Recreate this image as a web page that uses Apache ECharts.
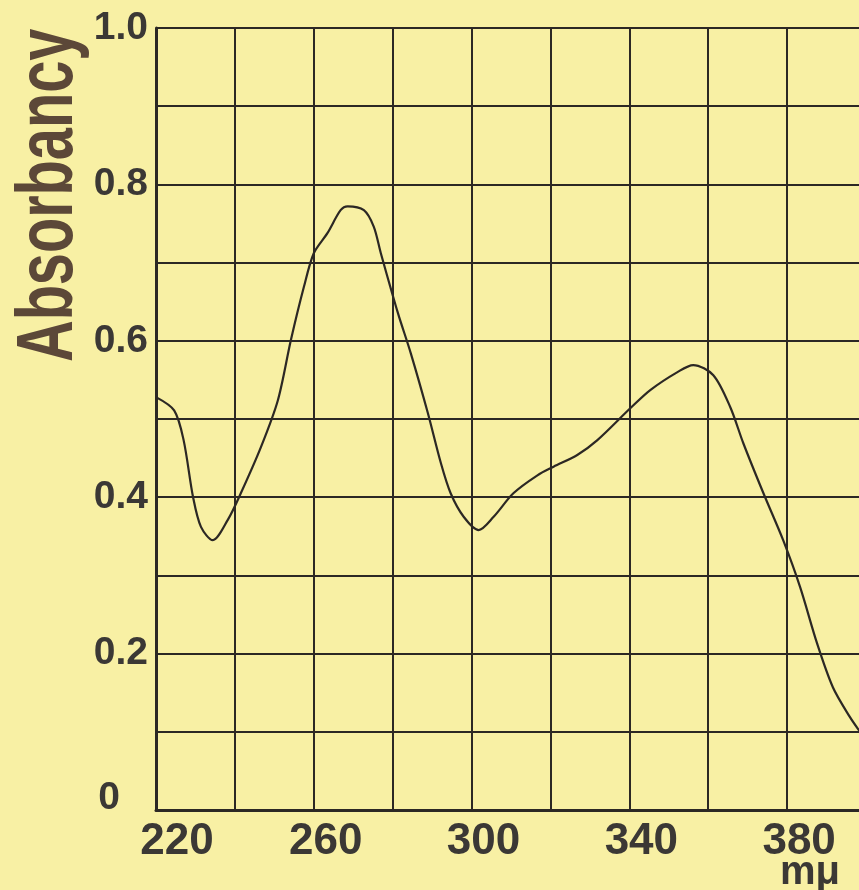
<!DOCTYPE html>
<html>
<head>
<meta charset="utf-8">
<script src="https://cdn.jsdelivr.net/npm/echarts@6/dist/echarts.min.js"></script>
<style>
html,body{margin:0;padding:0;background:#f8f0a4;}
#chart{width:859px;height:890px;}
</style>
</head>
<body>
<div id="chart"></div>
<script>
// Wavelength (mμ) and absorbancy
const wavelength = [220, 224.6, 227, 229.4, 231.4, 234.4, 238.2, 241.5, 246.6, 250.9, 254.2, 257.5, 260, 263.5, 266.8, 268.6, 272.7, 275.2, 277, 281.3, 284.6, 288.9, 292.2, 294.7, 298, 301.8, 305.6, 310.6, 316.7, 320.8, 326.8, 331.9, 340.3, 345.3, 352.2, 356.2, 361.3, 365.6, 368.9, 374, 379, 383.3, 387.6, 391.6, 395.9, 398.2, 400];
const absorbancy = [0.528, 0.511, 0.473, 0.400, 0.362, 0.345, 0.371, 0.405, 0.464, 0.524, 0.601, 0.669, 0.712, 0.738, 0.767, 0.772, 0.767, 0.746, 0.712, 0.636, 0.584, 0.508, 0.444, 0.405, 0.375, 0.358, 0.375, 0.405, 0.428, 0.439, 0.454, 0.473, 0.514, 0.537, 0.560, 0.569, 0.556, 0.515, 0.469, 0.405, 0.345, 0.285, 0.213, 0.157, 0.119, 0.102, 0.090];
const xTickLabels = [220, 260, 300, 340, 380];
const yTickLabels = {0: '0', 0.2: '0.2', 0.4: '0.4', 0.6: '0.6', 0.8: '0.8', 1: '1.0'};
const yTitle = 'Absorbancy';
const xUnit = 'mμ';

const ink = '#2c2824';
const labelInk = '#3b3835';
const chart = echarts.init(document.getElementById('chart'), null, {renderer: 'canvas'});
chart.setOption({
  backgroundColor: '#f8f0a4',
  animation: false,
  grid: {left: 156, top: 28, bottom: 80, width: 710, containLabel: false, outerBoundsMode: 'none'},
  graphic: [{
    type: 'text',
    x: 50, y: 362,
    rotation: Math.PI / 2,
    scaleX: 0.73,
    style: {
      text: yTitle,
      font: 'bold 79px "Liberation Sans"',
      fill: '#5c4838',
      align: 'left', textAlign: 'left',
      verticalAlign: 'middle', textVerticalAlign: 'middle'
    }
  }],
  xAxis: {
    type: 'value', min: 220, max: 400, interval: 20,
    name: xUnit, nameLocation: 'end', nameGap: -86, nameMoveOverlap: false,
    nameTextStyle: {color: labelInk, fontFamily: 'Liberation Sans', fontWeight: 'bold', fontSize: 40, verticalAlign: 'top', align: 'left', padding: [43, 0, 0, 0]},
    axisLine: {show: true, lineStyle: {color: ink, width: 3}},
    axisTick: {show: false},
    splitLine: {show: true, lineStyle: {color: ink, width: 2}},
    axisLabel: {
      margin: 10, color: labelInk, fontFamily: 'Liberation Sans', fontWeight: 'bold', fontSize: 44,
      padding: [0, 0, 0, 24],
      rich: {first: {color: labelInk, fontFamily: 'Liberation Sans', fontWeight: 'bold', fontSize: 44, padding: [0, 0, 0, 18]}},
      formatter: v => {
        if (!xTickLabels.includes(v)) return '';
        return v === xTickLabels[0] ? '{first|' + v + '}' : String(v);
      }
    }
  },
  yAxis: {
    type: 'value', min: 0, max: 1, interval: 0.1,
    axisLine: {show: true, lineStyle: {color: ink, width: 3}},
    axisTick: {show: false},
    splitLine: {show: true, lineStyle: {color: ink, width: 2}},
    axisLabel: {
      margin: 8, color: labelInk, fontFamily: 'Liberation Sans', fontWeight: 'bold', fontSize: 39,
      rich: {zero: {color: labelInk, fontFamily: 'Liberation Sans', fontWeight: 'bold', fontSize: 39, padding: [0, 28, 24, 0]}},
      formatter: v => {
        const k = Math.round(v * 10) / 10;
        if (yTickLabels[k] === undefined) return '';
        return k === 0 ? '{zero|' + yTickLabels[k] + '}' : yTickLabels[k];
      }
    }
  },
  series: [{
    type: 'line',
    data: wavelength.map((w, i) => [w, absorbancy[i]]),
    smooth: 0.3,
    showSymbol: false,
    clip: true,
    lineStyle: {color: ink, width: 2.2}
  }]
});
</script>
</body>
</html>
